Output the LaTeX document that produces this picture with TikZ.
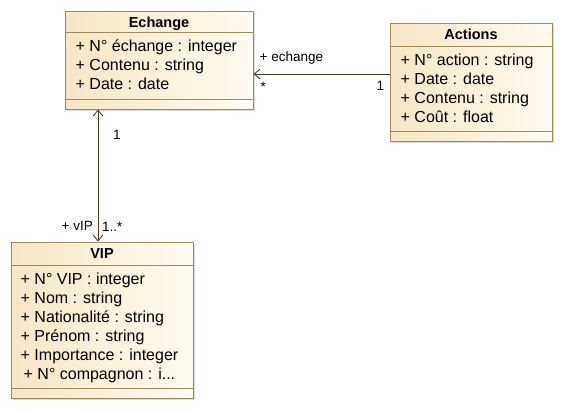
\documentclass[tikz,border=0pt]{standalone}
\usepackage{fontspec}
\setmainfont{Liberation Sans}
\usetikzlibrary{calc,arrows.meta,positioning,shadows}
\definecolor{classfill}{RGB}{246,231,196}
\definecolor{classfillr}{RGB}{255,251,242}
\definecolor{classline}{RGB}{160,138,92}
\definecolor{assocline}{RGB}{72,58,38}

\begin{document}
\begin{tikzpicture}[x=1pt,y=-1pt,
    classbox/.style={draw=classline, line width=1pt, left color=classfill, right color=classfillr,
      inner sep=0pt, drop shadow={shadow xshift=1.5pt, shadow yshift=-1.5pt, opacity=0.3}},
    classname/.style={anchor=base, inner sep=0pt, font=\fontsize{14.5}{16}\selectfont\bfseries},
    attr/.style={anchor=base west, inner sep=0pt, font=\fontsize{16}{18}\selectfont},
    sepline/.style={draw=classline, line width=1pt},
    role/.style={inner sep=0pt, font=\fontsize{13.5}{15}\selectfont},
    assoc/.style={draw=assocline, line width=0.9pt},
    navi/.style={-{Straight Barb[length=6pt,width=10pt]}},
    navib/.style={{Straight Barb[length=6pt,width=10pt]}-{Straight Barb[length=6pt,width=10pt]}}
  ]
    \useasboundingbox (0,0) rectangle (562,410);

    % classes
    \node[classbox, minimum width=188pt, minimum height=98pt] (echange) at (159,60) {};
    \node[classbox, minimum width=162pt, minimum height=118pt] (actions) at (471,82) {};
    \node[classbox, minimum width=182pt, minimum height=156pt] (vip) at (102,320) {};

    \node[classname] (echangeT) at ($(echange.north)+(0,16.5)$) {Echange};
    \node[classname] (actionsT) at ($(actions.north)+(0,16.5)$) {Actions};
    \node[classname] (vipT) at ($(vip.north)+(0,17)$) {VIP};

    \draw[sepline] ($(echange.north west)+(0,22)$) -- ($(echange.north east)+(0,22)$);
    \draw[sepline] ($(echange.south west)+(0,-10)$) -- ($(echange.south east)+(0,-10)$);
    \draw[sepline] ($(actions.north west)+(0,24)$) -- ($(actions.north east)+(0,24)$);
    \draw[sepline] ($(actions.south west)+(0,-10)$) -- ($(actions.south east)+(0,-10)$);
    \draw[sepline] ($(vip.north west)+(0,24)$) -- ($(vip.north east)+(0,24)$);
    \draw[sepline] ($(vip.south west)+(0,-10)$) -- ($(vip.south east)+(0,-10)$);

    \foreach \t [count=\i] in {+ N° échange : integer, + Contenu : string, + Date : date}
        \node[attr] (echange-\i) at ($(echange.north west)+(11,{22+19*\i})$) {\t};
    \foreach \t [count=\i] in {+ N° action : string, + Date : date, + Contenu : string, + Coût : float}
        \node[attr] (actions-\i) at ($(actions.north west)+(11,{24+19*\i})$) {\t};
    \foreach \t [count=\i] in {+ N° VIP : integer, + Nom : string, + Nationalité : string, + Prénom : string, + Importance : integer}
        \node[attr] (vip-\i) at ($(vip.north west)+(10,{24+19*\i})$) {\t};
    \node[attr] (vip-6) at ($(vip.north west)+(13,138)$) {+ N° compagnon : i...};

    % associations
    \draw[assoc, navi] ([yshift=8pt]actions.west) -- ([yshift=8pt]actions.west -| echange.east)
        coordinate (echangeEnd);
    \coordinate (actionsEnd) at ([yshift=8pt]actions.west);
    \node[role, anchor=base west] (echangeRole) at ($(echangeEnd)+(6,-13)$) {+ echange};
    \node[role, anchor=base west] (echangeMult) at ($(echangeEnd)+(7,17)$) {*};
    \node[role, anchor=base west] (actionsMult) at ($(actionsEnd)+(-13,16)$) {1};

    \draw[assoc, navib] ([xshift=-4pt]vip.north) -- ([xshift=-4pt]vip.north |- echange.south)
        coordinate (echangeTop);
    \coordinate (vipEnd) at ([xshift=-4pt]vip.north);
    \node[role, anchor=base west] (echangeMultb) at ($(echangeTop)+(15,30)$) {1};
    \node[role, anchor=base east] (vipRole) at ($(vipEnd)+(-5,-11)$) {+ vIP};
    \node[role, anchor=base west] (vipMult) at ($(vipEnd)+(4,-10)$) {1..*};
\end{tikzpicture}
\end{document}
